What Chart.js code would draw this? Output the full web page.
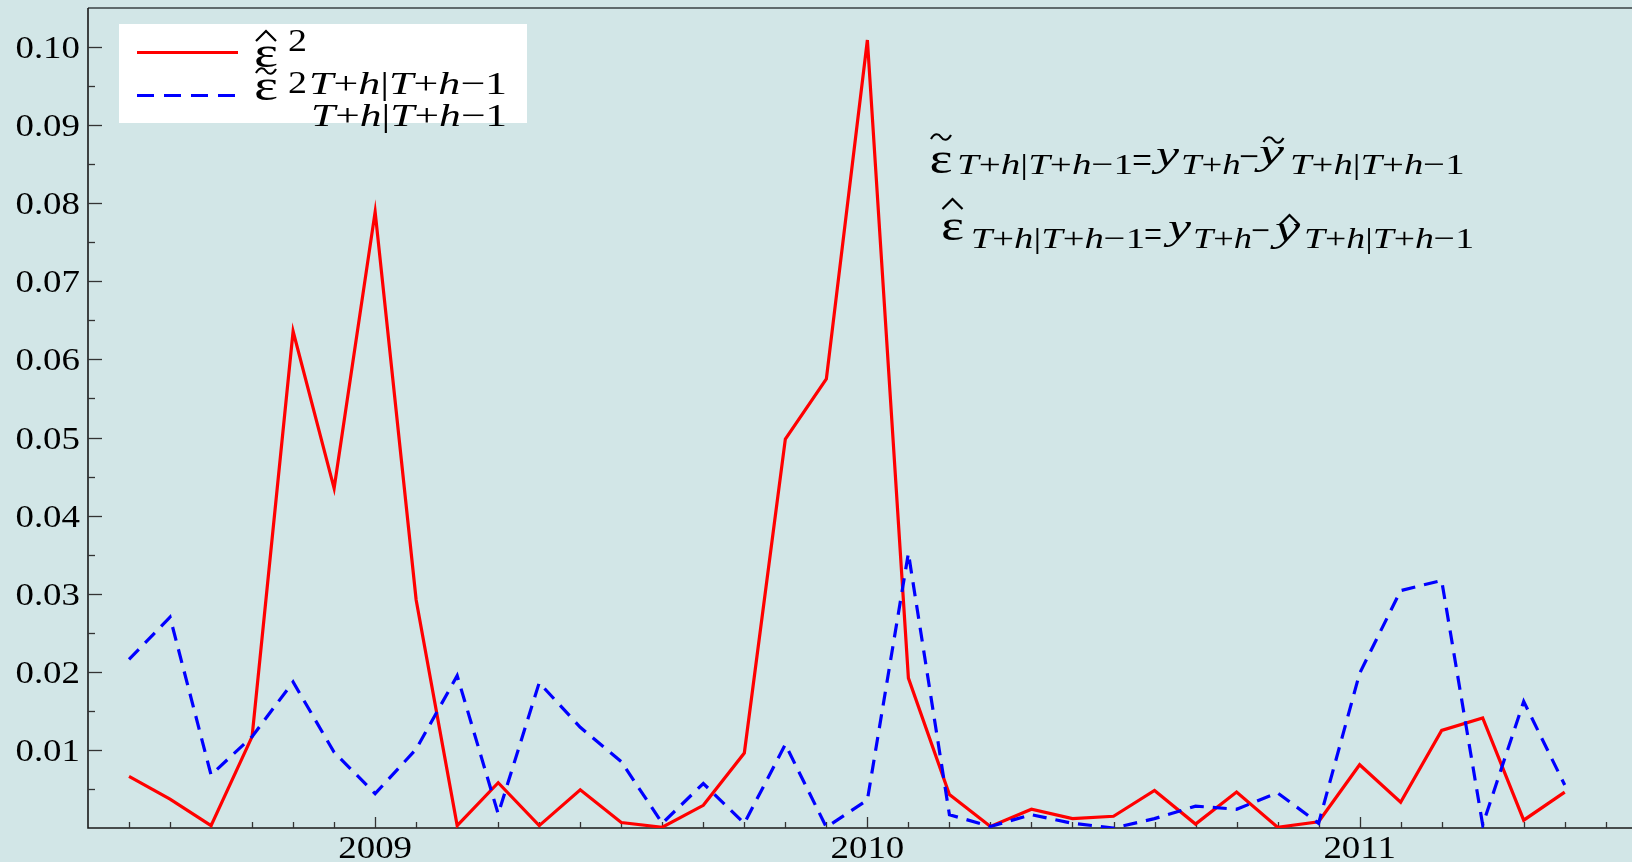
<!DOCTYPE html>
<html>
<head>
<meta charset="utf-8">
<script src="https://cdn.jsdelivr.net/npm/chart.js@4.4.1/dist/chart.umd.min.js"></script>
<style>
  html, body { margin: 0; padding: 0; background: #d2e6e7; overflow: hidden; }
  canvas { display: block; }
</style>
</head>
<body>
<canvas id="myChartErrores" width="1632" height="862"></canvas>
<script>
// meses de la muestra de evaluacion
const meses = [
  "2008-07", "2008-08", "2008-09", "2008-10", "2008-11", "2008-12",
  "2009-01", "2009-02", "2009-03", "2009-04", "2009-05", "2009-06",
  "2009-07", "2009-08", "2009-09", "2009-10", "2009-11", "2009-12",
  "2010-01", "2010-02", "2010-03", "2010-04", "2010-05", "2010-06",
  "2010-07", "2010-08", "2010-09", "2010-10", "2010-11", "2010-12",
  "2011-01", "2011-02", "2011-03", "2011-04", "2011-05", "2011-06",
];

// error cuadratico con sombrero (linea roja)
const errorHat2 = [
  0.0066, 0.0037, 0.0003, 0.0117, 0.0636, 0.0435,
  0.0789, 0.0292, 0.0003, 0.0058, 0.0003, 0.0049,
  0.0007, 0.0001, 0.0029, 0.0096, 0.0498, 0.0575,
  0.1009, 0.0192, 0.0043, 0.0002, 0.0024, 0.0012,
  0.0015, 0.0048, 0.0005, 0.0046, 0.0001, 0.0008,
  0.0081, 0.0033, 0.0125, 0.0141, 0.0010, 0.0046,
];

// error cuadratico con tilde (linea azul discontinua)
const errorTilde2 = [
  0.0216, 0.0270, 0.0068, 0.0117, 0.0187, 0.0097,
  0.0044, 0.0101, 0.0195, 0.0018, 0.0186, 0.0129,
  0.0085, 0.0006, 0.0057, 0.0006, 0.0107, 0.0001,
  0.0036, 0.0352, 0.0017, 0.0002, 0.0017, 0.0006,
  0.0000, 0.0012, 0.0028, 0.0024, 0.0045, 0.0006,
  0.0198, 0.0304, 0.0317, 0.0004, 0.0162, 0.0055,
];

const xTickMeses = ["2009-01", "2010-01", "2011-01"];
const xTickLabels = ["2009", "2010", "2011"];
const yTicks = [0.01, 0.02, 0.03, 0.04, 0.05, 0.06, 0.07, 0.08, 0.09, 0.10];
const yTickLabels = ["0.01", "0.02", "0.03", "0.04", "0.05", "0.06", "0.07", "0.08", "0.09", "0.10"];

const ESTIRA = 1.19; // el texto del original esta estirado a lo ancho
const SERIF = '"Liberation Serif", "Times New Roman", serif';
const SUB = "T+h|T+h\u22121";

/*------------------------------------------
Ayudas para escribir texto y formulas
-------------------------------------------*/
function textoEstirado(ctx, text, x, y, size, align) {
  ctx.save();
  ctx.font = size + "px " + SERIF;
  ctx.textBaseline = "alphabetic";
  ctx.textAlign = "left";
  const w = ctx.measureText(text).width * ESTIRA;
  let x0 = x;
  if (align === "right") x0 = x - w;
  else if (align === "center") x0 = x - w / 2;
  ctx.translate(x0, y);
  ctx.scale(ESTIRA, 1);
  ctx.fillText(text, 0, 0);
  ctx.restore();
}

function partes(str, size) {
  return [...str].map((c) => ({ t: c, it: /[A-Za-z]/.test(c), size: size }));
}

function fuente(p) {
  return (p.it ? "italic " : "") + p.size + "px " + SERIF;
}

function acento(ctx, tipo, cx, cy) {
  ctx.save();
  ctx.strokeStyle = "#000";
  ctx.lineWidth = 2.2;
  ctx.beginPath();
  if (tipo === "hat") {
    ctx.moveTo(cx - 10, cy + 5);
    ctx.lineTo(cx, cy - 5);
    ctx.lineTo(cx + 10, cy + 5);
  } else {
    ctx.moveTo(cx - 10, cy + 2);
    ctx.bezierCurveTo(cx - 6, cy - 5, cx - 2, cy - 3, cx, cy);
    ctx.bezierCurveTo(cx + 2, cy + 3, cx + 6, cy + 5, cx + 10, cy - 2);
  }
  ctx.stroke();
  ctx.restore();
}

// escribe una pieza entre x0 y x1 sobre la linea base
function pieza(ctx, x0, x1, base, lista, acc) {
  ctx.save();
  ctx.fillStyle = "#000";
  ctx.textBaseline = "alphabetic";
  ctx.textAlign = "left";
  let natural = 0;
  lista.forEach((p) => {
    ctx.font = fuente(p);
    p.w = ctx.measureText(p.t).width;
    natural += p.w;
  });
  const sx = (x1 - x0) / natural;
  let cx = x0;
  lista.forEach((p) => {
    ctx.save();
    ctx.font = fuente(p);
    ctx.translate(cx, base);
    ctx.scale(sx, 1);
    ctx.fillText(p.t, 0, 0);
    ctx.restore();
    cx += p.w * sx;
  });
  if (acc) acento(ctx, acc.tipo, (x0 + x1) / 2 + (acc.dx || 0), base + acc.dy);
  ctx.restore();
}

/*------------------------------------------
Marco, ejes y marcas hacia adentro
-------------------------------------------*/
const marcoPlugin = {
  id: "marco",
  beforeDatasetsDraw(chart) {
    const { ctx, chartArea: a, scales } = chart;
    const x = scales.x;
    const y = scales.y;
    ctx.save();
    ctx.strokeStyle = "#5f6a6c";
    ctx.lineWidth = 2;
    ctx.beginPath();
    ctx.moveTo(a.left, a.top);
    ctx.lineTo(a.right, a.top);
    ctx.stroke();

    ctx.strokeStyle = "#1a1a1a";
    ctx.lineWidth = 1.6;
    ctx.beginPath();
    ctx.moveTo(a.left, a.top);
    ctx.lineTo(a.left, a.bottom);
    ctx.lineTo(a.right, a.bottom);
    ctx.stroke();

    // marcas del eje x, una por mes
    ctx.strokeStyle = "#333";
    ctx.lineWidth = 1.3;
    for (let i = 0; i <= Math.floor(x.max); i++) {
      const px = Math.round(x.getPixelForValue(i)) + 0.5;
      const largo = xTickMeses.includes(meses[i]) ? 11 : 6;
      ctx.beginPath();
      ctx.moveTo(px, a.bottom);
      ctx.lineTo(px, a.bottom - largo);
      ctx.stroke();
    }
    // marcas del eje y, mayores cada 0.01 y menores cada 0.005
    for (let k = 1; k * 0.005 < y.max; k++) {
      const py = Math.round(y.getPixelForValue(k * 0.005)) + 0.5;
      const largo = k % 2 === 0 ? 14 : 7;
      ctx.beginPath();
      ctx.moveTo(a.left, py);
      ctx.lineTo(a.left + largo, py);
      ctx.stroke();
    }

    // etiquetas
    ctx.fillStyle = "#000";
    yTicks.forEach((v, i) => {
      textoEstirado(ctx, yTickLabels[i], a.left - 8, y.getPixelForValue(v) + 11, 31, "right");
    });
    xTickMeses.forEach((m, i) => {
      const px = x.getPixelForValue(meses.indexOf(m));
      textoEstirado(ctx, xTickLabels[i], px, a.bottom + 30, 31, "center");
    });
    ctx.restore();
  },
};

/*------------------------------------------
Leyenda y formulas
-------------------------------------------*/
const textosPlugin = {
  id: "textos",
  afterDatasetsDraw(chart) {
    const ctx = chart.ctx;
    ctx.save();
    ctx.fillStyle = "#ffffff";
    ctx.fillRect(119, 24, 408, 99);

    ctx.lineWidth = 3.2;
    ctx.strokeStyle = "#ff0000";
    ctx.beginPath();
    ctx.moveTo(137, 52.5);
    ctx.lineTo(238, 52.5);
    ctx.stroke();
    ctx.strokeStyle = "#0000ff";
    ctx.setLineDash([17, 10]);
    ctx.beginPath();
    ctx.moveTo(137, 95.5);
    ctx.lineTo(238, 95.5);
    ctx.stroke();
    ctx.setLineDash([]);
    ctx.restore();

    const eps = [{ t: "\u03b5", size: 44 }];
    const dos = [{ t: "2", size: 31 }];

    // leyenda, entrada 1: epsilon con sombrero al cuadrado
    pieza(ctx, 254, 278, 67, eps, { tipo: "hat", dy: -31 });
    pieza(ctx, 288, 307, 51, dos);
    pieza(ctx, 309, 507, 94, partes(SUB, 32));
    // leyenda, entrada 2: epsilon con tilde al cuadrado
    pieza(ctx, 254, 278, 100, eps, { tipo: "tilde", dy: -29 });
    pieza(ctx, 288, 307, 93, dos);
    pieza(ctx, 311, 507, 126, partes(SUB, 32));

    const igual = [{ t: "=", size: 38 }];
    const menos = [{ t: "\u2212", size: 38 }];
    const ye = [{ t: "y", it: true, size: 36 }];

    // formula del error con tilde
    pieza(ctx, 929.5, 952.5, 173, eps, { tipo: "tilde", dy: -36 });
    pieza(ctx, 957, 1133, 174, partes(SUB, 30));
    pieza(ctx, 1132, 1152, 173, igual);
    pieza(ctx, 1156, 1179, 166, ye);
    pieza(ctx, 1181, 1240.6, 174, partes("T+h", 30));
    pieza(ctx, 1239, 1259, 169, menos);
    pieza(ctx, 1259, 1284, 164, ye, { tipo: "tilde", dy: -24, dx: 2 });
    pieza(ctx, 1290, 1464.5, 174, partes(SUB, 30));

    // formula del error con sombrero
    pieza(ctx, 941, 964, 240, eps, { tipo: "hat", dy: -36 });
    pieza(ctx, 970.8, 1145, 248, partes(SUB, 30));
    pieza(ctx, 1144, 1162, 247, igual);
    pieza(ctx, 1168, 1191, 239, ye);
    pieza(ctx, 1193, 1252, 248, partes("T+h", 30));
    pieza(ctx, 1251, 1270, 243, menos);
    pieza(ctx, 1275, 1300, 241, ye, { tipo: "hat", dy: -21, dx: 2 });
    pieza(ctx, 1304, 1474, 248, partes(SUB, 30));
  },
};

const ctxErrores = document.getElementById("myChartErrores").getContext("2d");

const myChartErrores = new Chart(ctxErrores, {
  type: "line",
  data: {
    datasets: [
      {
        label: "\u03b5\u0302\u00b2 T+h|T+h\u22121",
        data: errorHat2.map((v, i) => ({ x: i, y: v })),
        borderColor: "#ff0000",
        borderWidth: 3.2,
        pointRadius: 0,
        tension: 0,
        fill: false,
        borderJoinStyle: "miter",
        order: 1,
      },
      {
        label: "\u03b5\u0303\u00b2 T+h|T+h\u22121",
        data: errorTilde2.map((v, i) => ({ x: i, y: v })),
        borderColor: "#0000ff",
        borderWidth: 3.2,
        borderDash: [14, 9],
        pointRadius: 0,
        tension: 0,
        fill: false,
        borderJoinStyle: "miter",
        order: 0,
      },
    ],
  },
  options: {
    responsive: false,
    animation: false,
    layout: { padding: { left: 88, top: 8, right: 0, bottom: 34 } },
    scales: {
      x: { type: "linear", display: false, min: -1, max: 36.64 },
      y: { display: false, min: 0, max: 0.105 },
    },
    plugins: {
      legend: { display: false },
      tooltip: { enabled: false },
    },
  },
  plugins: [marcoPlugin, textosPlugin],
});
</script>
</body>
</html>
